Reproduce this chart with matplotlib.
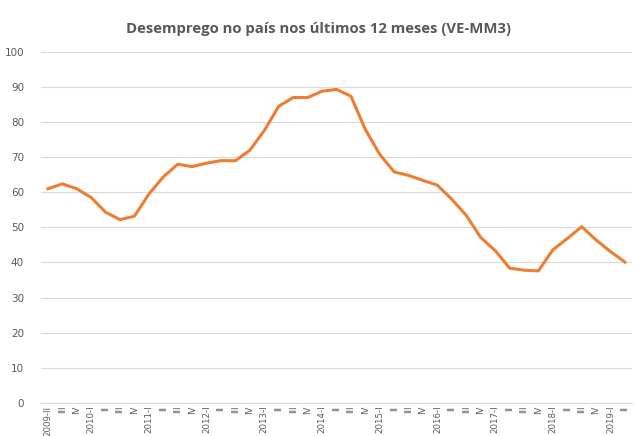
import matplotlib.pyplot as plt

# quarterly values, 2009-II .. 2019-II
periods = ["2009-II", "III", "IV"]
for yr in range(2010, 2019):
    periods += [f"{yr}-I", "II", "III", "IV"]
periods += ["2019-I", "II"]

unemployment = [61.0, 62.4, 61.0, 58.5, 54.3, 52.2, 53.2, 59.5, 64.4, 68.0,
                67.3, 68.3, 69.0, 69.0, 72.0, 77.6, 84.5, 87.0, 87.0, 88.8,
                89.3, 87.4, 77.9, 70.8, 65.8, 64.8, 63.4, 62.0, 58.0, 53.4,
                47.1, 43.4, 38.4, 37.8, 37.6, 43.6, 46.8, 50.2, 46.4, 43.1,
                40.1]

title = "Desemprego no país nos últimos 12 meses (VE-MM3)"

fig = plt.figure(figsize=(6.36, 4.36), dpi=100)
ax = fig.add_axes([0.064, 0.076, 0.93, 0.805])

ax.plot(range(len(unemployment)), unemployment, color="#ED7D31", lw=2.2,
        solid_joinstyle="round")

ax.set_xlim(-0.5, len(unemployment) - 0.5)
ax.set_ylim(0, 100)
ax.set_yticks(range(0, 101, 10))
ax.set_xticks(range(len(periods)))
ax.set_xticklabels(periods, rotation=90, fontsize=6.2, color="#595959")
ax.tick_params(axis="y", labelsize=7.5, labelcolor="#595959", length=0, pad=12)
ax.tick_params(axis="x", length=0, pad=2)

ax.grid(axis="y", color="#D9D9D9", lw=0.8)
ax.set_axisbelow(True)
for s in ["top", "right", "left"]:
    ax.spines[s].set_visible(False)
ax.spines["bottom"].set_color("#D9D9D9")

fig.text(0.5, 0.925, title, ha="center", fontsize=10.7, fontweight="bold",
         color="#595959", family="Open Sans")

fig.savefig("out.png", dpi=100)
